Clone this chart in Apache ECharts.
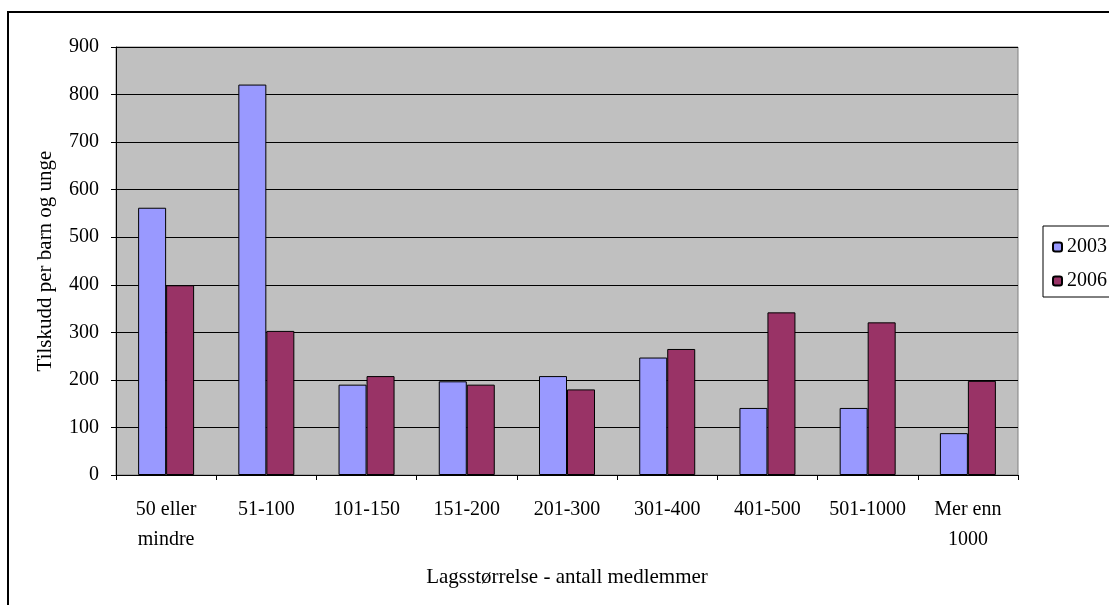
<!DOCTYPE html>
<html>
<head>
<meta charset="utf-8">
<script src="https://cdn.jsdelivr.net/npm/echarts@6/dist/echarts.min.js"></script>
<style>
  html, body { margin: 0; padding: 0; background: #fff; }
  #chart { width: 1109px; height: 605px; }
</style>
</head>
<body>
<div id="chart"></div>
<script>
// data
var categories = ["50 eller\nmindre", "51-100", "101-150", "151-200", "201-300",
                  "301-400", "401-500", "501-1000", "Mer enn\n1000"];
var years = ["2003", "2006"];
var values2003 = [562, 821, 190, 197, 208, 247, 141, 141, 88];
var values2006 = [399, 303, 208, 190, 180, 265, 342, 321, 198];
var yTicks = { min: 0, max: 900, interval: 100 };

var font = "Liberation Serif";

var chart = echarts.init(document.getElementById("chart"));
chart.setOption({
  animation: false,
  textStyle: { fontFamily: font, color: "#000" },
  graphic: [{
    type: "rect",
    shape: { x: 8, y: 12, width: 1200, height: 700 },
    style: { fill: "none", stroke: "#000", lineWidth: 2 },
    z: -1
  }],
  grid: {
    left: 116, right: 91, top: 47, bottom: 130,
    show: true,
    backgroundColor: "#C0C0C0",
    borderColor: "#808080",
    borderWidth: 1
  },
  legend: {
    data: years,
    orient: "vertical",
    left: 1043, top: 226,
    padding: [11, 10, 6, 9],
    itemWidth: 9, itemHeight: 9,
    itemGap: 14,
    backgroundColor: "#fff",
    borderColor: "#000",
    borderWidth: 1,
    textStyle: { fontFamily: font, fontSize: 20, color: "#000" }
  },
  xAxis: {
    type: "category",
    data: categories,
    name: "Lagsstørrelse - antall medlemmer",
    nameLocation: "middle",
    nameGap: 92,
    nameTextStyle: { fontFamily: font, fontSize: 21, color: "#000" },
    axisLine: { lineStyle: { color: "#000", width: 1 } },
    axisTick: { show: true, length: 5, inside: false, lineStyle: { color: "#000" } },
    axisLabel: { fontFamily: font, fontSize: 20, color: "#000", margin: 20, lineHeight: 30, interval: 0 }
  },
  yAxis: {
    type: "value",
    min: yTicks.min, max: yTicks.max, interval: yTicks.interval,
    name: "Tilskudd per barn og unge",
    nameLocation: "middle",
    nameGap: 60,
    nameTextStyle: { fontFamily: font, fontSize: 21, color: "#000" },
    axisLine: { show: true, lineStyle: { color: "#000", width: 1 } },
    axisTick: { show: true, length: 5, lineStyle: { color: "#000" } },
    axisLabel: { fontFamily: font, fontSize: 20, color: "#000", margin: 17 },
    splitLine: { show: true, lineStyle: { color: "#000", width: 1 } }
  },
  series: [
    {
      name: years[0], type: "bar", data: values2003,
      barWidth: 28, barGap: "0%",
      itemStyle: { color: "#9999FF", borderColor: "#000", borderWidth: 1 }
    },
    {
      name: years[1], type: "bar", data: values2006,
      barWidth: 28, barGap: "0%",
      itemStyle: { color: "#993366", borderColor: "#000", borderWidth: 1 }
    }
  ]
});
</script>
</body>
</html>
